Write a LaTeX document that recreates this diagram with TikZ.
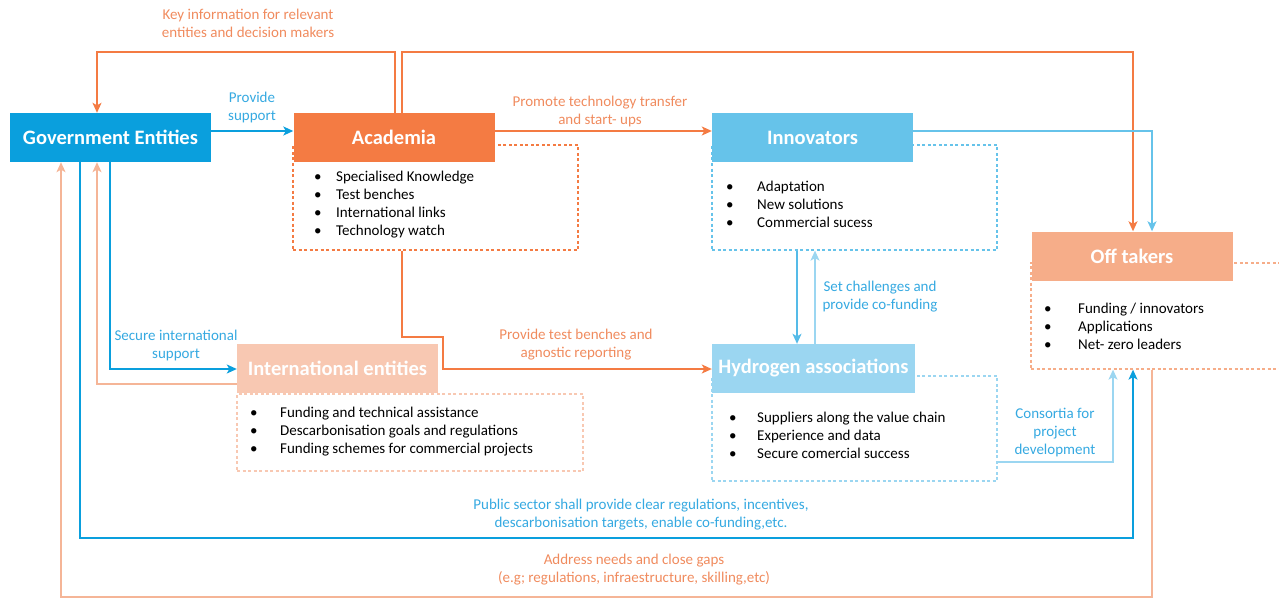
\documentclass[tikz,border=0pt]{standalone}
\usepackage{fontspec}
\setmainfont{Carlito}
\usetikzlibrary{arrows.meta,positioning}

\definecolor{govblue}{HTML}{0A9FDD}
\definecolor{acadorange}{HTML}{F47B43}
\definecolor{innoblue}{HTML}{66C3EA}
\definecolor{midblue}{HTML}{55BBE8}
\definecolor{hydroblue}{HTML}{9BD6F1}
\definecolor{offsalmon}{HTML}{F6AD89}
\definecolor{intlpeach}{HTML}{F8C8B2}
\definecolor{peachline}{HTML}{F5B597}
\definecolor{labelblue}{HTML}{35A9E1}
\definecolor{labelorange}{HTML}{F08B5E}

\newcommand{\itm}[2][22pt]{\makebox[#1][l]{\textbullet}#2}

\tikzset{
  headbox/.style={minimum width=201pt, minimum height=49pt, inner sep=0pt,
    text=white, font=\fontsize{20.5}{24}\selectfont\bfseries},
  dashbox/.style={draw, line width=1.3pt, dash pattern=on 3pt off 2.5pt, inner sep=0pt},
  listtext/.style={anchor=north west, align=left, inner sep=0pt,
    font=\fontsize{15}{18}\selectfont},
  lbl/.style={align=center, inner sep=0pt, font=\fontsize{15}{18}\selectfont},
  link/.style={line width=1.4pt, -{Stealth[length=10pt,width=9pt,inset=2.5pt]}}
}

\begin{document}
\begin{tikzpicture}[x=1pt, y=-1pt]

\useasboundingbox (0,0) rectangle (1279,599);

\node (acadlist) [dashbox, acadorange, minimum width=285pt, minimum height=105pt] at (435.5,197.5) {};
\node (innolist) [dashbox, innoblue, minimum width=285pt, minimum height=105pt] at (854.5,197.5) {};
\node (hydrolist) [dashbox, hydroblue, minimum width=285pt, minimum height=105pt] at (854.5,428.5) {};
\node (intllist) [dashbox, intlpeach, minimum width=346pt, minimum height=77pt] at (410,432.5) {};
\node (offlist) [dashbox, offsalmon, minimum width=259pt, minimum height=106pt] at (1160.5,316) {};

\node (gov) [headbox, fill=govblue] at (110.5,137.5) {Government Entities};
\node (acad) [headbox, fill=acadorange] at (394,137.5) {Academia};
\node (inno) [headbox, fill=innoblue] at (812.5,137.5) {Innovators};
\node (off) [headbox, fill=offsalmon] at (1132,256) {Off takers};
\node (hydro) [headbox, fill=hydroblue, minimum width=203pt] at (813.5,368.5) {Hydrogen associations};
\node (intl) [headbox, fill=intlpeach] at (337.5,368.5) {International entities};

\node (acaditems) [listtext] at (314,170.5) {\itm{Specialised Knowledge}\\ \itm{Test benches}\\
  \itm{International links}\\ \itm{Technology watch}};
\node (innoitems) [listtext] at (726,180.5) {\itm[31pt]{Adaptation}\\ \itm[31pt]{New solutions}\\
  \itm[31pt]{Commercial sucess}};
\node (hydroitems) [listtext] at (729,411.5) {\itm[28pt]{Suppliers along the value chain}\\
  \itm[28pt]{Experience and data}\\ \itm[28pt]{Secure comercial success}};
\node (intlitems) [listtext] at (250,406.5) {\itm[30pt]{Funding and technical assistance}\\
  \itm[30pt]{Descarbonisation goals and regulations}\\ \itm[30pt]{Funding schemes for commercial projects}};
\node (offitems) [listtext] at (1044,302.5) {\itm[34pt]{Funding / innovators}\\
  \itm[34pt]{Applications}\\ \itm[34pt]{Net- zero leaders}};

\node (l1) [lbl, labelorange] at (248,23.5) {Key information for relevant\\entities and decision makers};
\node (l2) [lbl, labelblue] at (252,108) {Provide\\support};
\node (l3) [lbl, labelorange] at (600,112) {Promote technology transfer\\and start- ups};
\node (l4) [lbl, labelblue] at (880,297) {Set challenges and\\provide co-funding};
\node (l5) [lbl, labelorange] at (576,345) {Provide test benches and\\agnostic reporting};
\node (l6) [lbl, labelblue] at (176,345) {Secure international\\support};
\node (l7) [lbl, labelblue] at (1055,433) {Consortia for\\project\\development};
\node (l8) [lbl, labelblue] at (641,515) {Public sector shall provide clear regulations, incentives,\\descarbonisation targets, enable co-funding,etc.};
\node (l9) [lbl, labelorange] at (634,570) {Address needs and close gaps\\(e.g; regulations, infraestructure, skilling,etc)};

\draw [link, govblue] (gov.east |- 0,131) -- (acad.west |- 0,131);
\draw [link, acadorange] (395,0 |- acad.north) -- (395,52) -| (gov.north -| 97,0);
\draw [link, acadorange] (402,0 |- acad.north) -- (402,52) -| (off.north -| 1133,0);
\draw [link, acadorange] (acad.east |- 0,131) -- (inno.west |- 0,131);
\draw [link, innoblue] (inno.east |- 0,131) -| (off.north -| 1152,0);
\draw [link, midblue] (797,0 |- innolist.south) -- (797,0 |- hydro.north);
\draw [link, hydroblue] (815,0 |- hydro.north) -- (815,0 |- innolist.south);
\draw [link, acadorange] (402,0 |- acadlist.south) -- (402,337) -- (443,337) -- (443,369) -- (hydro.west |- 0,369);
\draw [link, govblue] (110,0 |- gov.south) |- (intl.west |- 0,369);
\draw [link, peachline] (intl.west |- 0,384) -| (gov.south -| 97,0);
\draw [link, hydroblue] (hydrolist.east |- 0,462) -| (1113,0 |- offlist.south);
\draw [link, govblue] (80,0 |- gov.south) |- (1133,538) -- (1133,0 |- offlist.south);
\draw [link, peachline] (1152,0 |- offlist.south) |- (61,597) -- (61,0 |- gov.south);

\end{tikzpicture}
\end{document}
